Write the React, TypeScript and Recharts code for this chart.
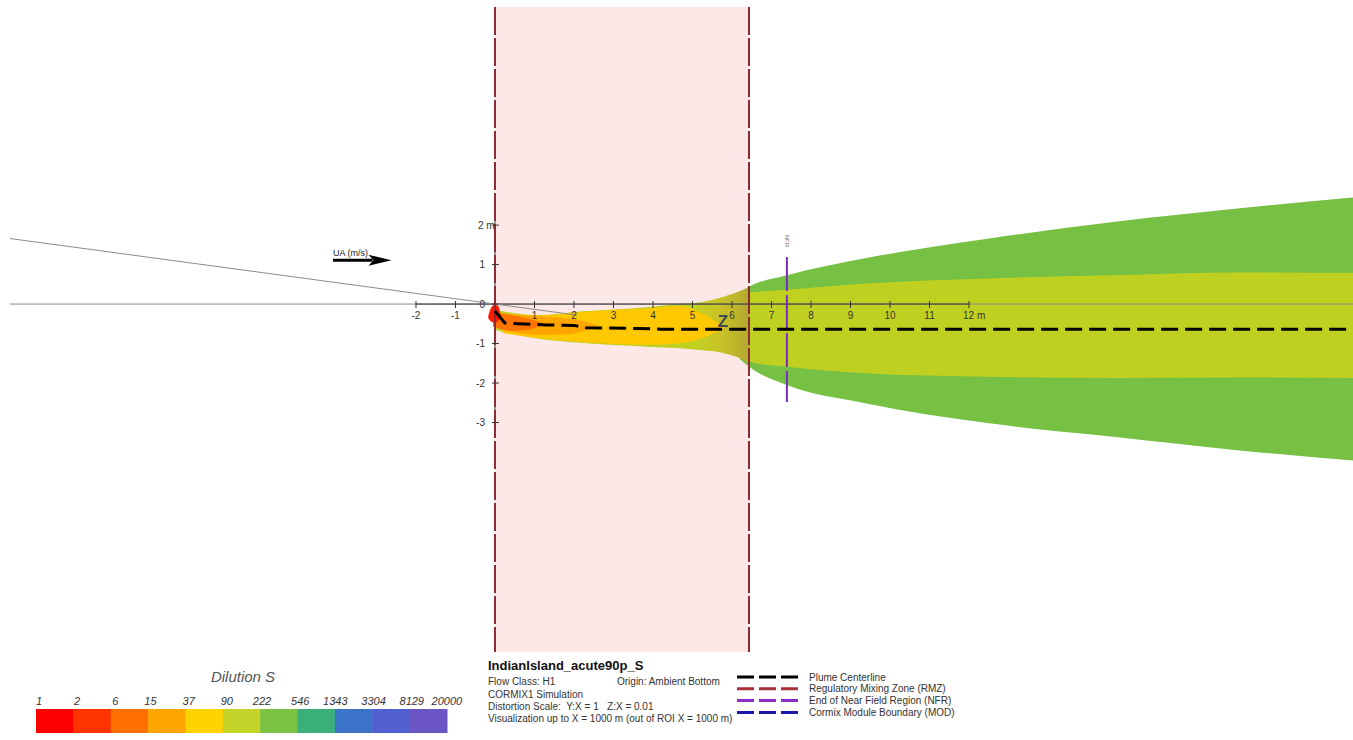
import React from 'react';
import { ComposedChart, Area, Line, Scatter, XAxis, YAxis } from 'recharts';

const W = 1353;
const H = 740;

// plan view domain in metres, same scale on both axes
const xDomain = [-12.53, 21.72];
const yDomain = [-11.04, 7.7];

const xTicks = [-2, -1, 1, 2, 3, 4, 5, 6, 7, 8, 9, 10, 11, 12];
const xTickLabels = ['-2', '-1', '1', '2', '3', '4', '5', '6', '7', '8', '9', '10', '11', '12 m'];
const yTicks = [-3, -2, -1, 0, 1, 2];
const yTickLabels = ['-3', '-2', '-1', '0', '1', '2 m'];

// plume bands: [x, lower, upper]
const greenBand = [
  [6.2, -1.4, 0.3],
  [6.45, -1.6, 0.45],
  [7.39, -2.05, 0.73],
  [9.37, -2.51, 1.16],
  [12.51, -3.02, 1.66],
  [15.65, -3.36, 2.08],
  [18.79, -3.7, 2.42],
  [21.72, -3.96, 2.7],
];
const yellowGreenBand = [
  [0.0, -0.66, -0.15],
  [1.06, -0.87, -0.28],
  [2.15, -0.98, -0.19],
  [3.84, -1.08, -0.08],
  [4.68, -1.12, 0.0],
  [5.25, -1.17, 0.05],
  [5.71, -1.22, 0.16],
  [6.1, -1.33, 0.27],
  [6.45, -1.46, 0.3],
  [7.39, -1.59, 0.36],
  [9.37, -1.75, 0.52],
  [12.51, -1.84, 0.65],
  [15.65, -1.87, 0.73],
  [18.79, -1.86, 0.8],
  [21.72, -1.87, 0.79],
];
const oliveBand = [
  [5.0, -1.15, 0.02],
  [5.71, -1.22, 0.16],
  [6.1, -1.33, 0.29],
  [6.44, -1.5, 0.42],
];
const yellowBand = [
  [0.2, -0.74, -0.24],
  [1.06, -0.86, -0.29],
  [2.15, -0.96, -0.2],
  [3.0, -1.01, -0.15],
  [3.84, -1.03, -0.11],
  [4.7, -0.99, -0.05],
  [5.25, -0.86, -0.24],
  [5.8, -0.61, -0.59],
];
const lightOrangeBand = [
  [0.05, -0.6, -0.22],
  [0.5, -0.72, -0.27],
  [1.06, -0.78, -0.3],
  [1.7, -0.77, -0.35],
  [2.2, -0.7, -0.42],
  [2.6, -0.56, -0.54],
];
const orangeBand = [
  [-0.05, -0.56, -0.2],
  [0.4, -0.68, -0.28],
  [0.8, -0.66, -0.36],
  [1.15, -0.55, -0.46],
  [1.3, -0.5, -0.5],
];
const redBand = [
  [-0.17, -0.36, -0.3],
  [-0.1, -0.44, -0.1],
  [0.0, -0.47, -0.02],
  [0.08, -0.42, -0.05],
  [0.15, -0.35, -0.3],
];
const rmzBox = [
  [0, -8.81, 7.52],
  [6.43, -8.81, 7.52],
];

const centerline = [
  [0.0, -0.18],
  [0.25, -0.48],
  [0.6, -0.5],
  [1.3, -0.53],
  [2.0, -0.54],
  [2.3, -0.6],
  [3.6, -0.62],
  [4.2, -0.635],
  [21.72, -0.64],
];
const rmzLeft = [[0, 7.52], [0, -8.81]];
const rmzRight = [[6.43, 7.52], [6.43, -8.81]];
const nfrLine = [[7.39, 1.19], [7.39, -2.48]];
const ambientLine = [[-12.28, 1.66], [2.07, -0.28]];
const xAxisFull = [[-12.28, 0], [21.72, 0]];
const xAxisScale = [[-2, 0], [12, 0]];
const yAxisScale = [[0, -3.2], [0, 2.2]];
const uaShaft = [[-4.1, 1.11], [-3.1, 1.11]];
const uaHead = [{ x: -2.62, y: 1.11 }];

const chartLabels = [
  { x: -4.1, y: 1.215, text: 'UA (m/s)', kind: 'ua' },
  { x: 5.77, y: -0.58, text: 'Z', kind: 'z' },
  { x: 7.39, y: 1.6, text: 'NFR', kind: 'nfr' },
];

const dilutionLevels = ['1', '2', '6', '15', '37', '90', '222', '546', '1343', '3304', '8129', '20000'];
const dilutionColors = ['#fe0000', '#ff3300', '#ff7000', '#ffa500', '#ffd200', '#c4d32a', '#7cc242', '#3aaf7a', '#3b73c8', '#5060d0', '#6b55c5'];

const legendItems = ['Plume Centerline', 'Regulatory Mixing Zone (RMZ)', 'End of Near Field Region (NFR)', 'Cormix Module Boundary (MOD)'];
const legendColors = ['#000000', '#a8303a', '#8a2ec6', '#1818a8'];

const infoLines = [
  'CORMIX1 Simulation',
  'Distortion Scale:  Y:X = 1   Z:X = 0.01',
  'Visualization up to X = 1000 m (out of ROI X = 1000 m)',
];

const band = (rows: number[][]) => rows.map(([x, lo, hi]) => ({ x, r: [lo, hi] }));
const pts = (rows: number[][]) => rows.map(([x, y]) => ({ x, y }));

const FONT = 'Arial, "Liberation Sans", sans-serif';

const XTick = (p: any) => {
  const { cx, cy, payload } = p;
  const isEnd = payload.label.indexOf('m') >= 0;
  return (
    <g>
      <line x1={cx} x2={cx} y1={cy - 3} y2={cy + 4} stroke="#333" strokeWidth={1} />
      <text x={isEnd ? cx - 6 : cx} y={cy + 15} textAnchor={isEnd ? 'start' : 'middle'} fontSize={10} fill="#333" fontFamily={FONT}>
        {payload.label}
      </text>
    </g>
  );
};

const YTick = (p: any) => {
  const { cx, cy, payload } = p;
  const isEnd = payload.label.indexOf('m') >= 0;
  return (
    <g>
      <line x1={cx - 3} x2={cx + 4} y1={cy} y2={cy} stroke="#333" strokeWidth={1} />
      <text x={isEnd ? cx - 17 : cx - 10} y={cy + 3.5} textAnchor={isEnd ? 'start' : 'end'} fontSize={10} fill="#333" fontFamily={FONT}>
        {payload.label}
      </text>
    </g>
  );
};

const ArrowHead = (p: any) => {
  const { cx, cy } = p;
  return <polygon points={`${cx},${cy} ${cx - 23},${cy - 5.5} ${cx - 18},${cy} ${cx - 23},${cy + 5.5}`} fill="#000" />;
};

const ChartLabel = (p: any) => {
  const { cx, cy, payload } = p;
  if (payload.kind === 'ua') {
    return (
      <text x={cx} y={cy} fontSize={9} fill="#222" fontFamily={FONT}>
        {payload.text}
      </text>
    );
  }
  if (payload.kind === 'z') {
    return (
      <text x={cx} y={cy} textAnchor="middle" fontSize={17} fontWeight={600} fill="#3c4a57" fontFamily={FONT}>
        {payload.text}
      </text>
    );
  }
  return (
    <text x={cx} y={cy} transform={`rotate(90 ${cx} ${cy})`} textAnchor="middle" dy={2} fontSize={6} fill="#777" fontFamily={FONT}>
      {payload.text}
    </text>
  );
};

const areaProps = { dataKey: 'r', type: 'monotone' as const, fillOpacity: 1, stroke: 'none', activeDot: false, isAnimationActive: false };
const lineProps = { dataKey: 'y', type: 'linear' as const, dot: false, activeDot: false, isAnimationActive: false };

export default function App() {
  const cellW = 411 / dilutionColors.length;
  return (
    <div style={{ position: 'absolute', left: 0, top: 0, width: W, height: H, background: '#fff' }}>
      <ComposedChart width={W} height={H} margin={{ top: 0, right: 0, bottom: 0, left: 0 }}>
        <defs>
          <linearGradient id="nearFieldEdge" x1="0" y1="0" x2="1" y2="0">
            <stop offset="0%" stopColor="#c8c826" stopOpacity={0} />
            <stop offset="45%" stopColor="#cbc226" stopOpacity={0.9} />
            <stop offset="100%" stopColor="#b4a830" stopOpacity={1} />
          </linearGradient>
        </defs>
        <XAxis type="number" dataKey="x" domain={xDomain} allowDataOverflow hide />
        <YAxis type="number" dataKey="y" domain={yDomain} allowDataOverflow hide />

        <Area {...areaProps} data={band(rmzBox)} type="linear" fill="#fde8e8" />
        <Area {...areaProps} data={band(greenBand)} fill="#76c043" />
        <Area {...areaProps} data={band(yellowGreenBand)} fill="#c0d020" />
        <Area {...areaProps} data={band(oliveBand)} fill="url(#nearFieldEdge)" />
        <Area {...areaProps} data={band(yellowBand)} fill="#ffc800" />
        <Area {...areaProps} data={band(lightOrangeBand)} fill="#ffa500" />
        <Area {...areaProps} data={band(orangeBand)} fill="#ff7400" />
        <Area {...areaProps} data={band(redBand)} fill="#ff1a00" />

        <Line {...lineProps} data={pts(xAxisFull)} stroke="#8a8a8a" strokeWidth={1} />
        <Line {...lineProps} data={pts(xAxisScale)} stroke="#333" strokeWidth={1} />
        <Line {...lineProps} data={pts(yAxisScale)} stroke="#333" strokeWidth={1} />
        <Line {...lineProps} data={pts(ambientLine)} stroke="#8c8c8c" strokeWidth={1} />
        <Line {...lineProps} data={pts(rmzLeft)} stroke="#8e2a35" strokeWidth={2} strokeDasharray="28 3" />
        <Line {...lineProps} data={pts(rmzRight)} stroke="#8e2a35" strokeWidth={2} strokeDasharray="28 3" />
        <Line {...lineProps} data={pts(nfrLine)} stroke="#7a2cc0" strokeWidth={2} strokeDasharray="34 4" />
        <Line {...lineProps} data={pts(centerline)} stroke="#000" strokeWidth={3} strokeDasharray="17 7" />
        <Line {...lineProps} data={pts(uaShaft)} stroke="#000" strokeWidth={3} />

        <Scatter data={xTicks.map((v, i) => ({ x: v, y: 0, label: xTickLabels[i] }))} shape={XTick} isAnimationActive={false} />
        <Scatter data={yTicks.map((v, i) => ({ x: 0, y: v, label: yTickLabels[i] }))} shape={YTick} isAnimationActive={false} />
        <Scatter data={uaHead} shape={ArrowHead} isAnimationActive={false} />
        <Scatter data={chartLabels} shape={ChartLabel} isAnimationActive={false} />
      </ComposedChart>

      <svg width={W} height={H} style={{ position: 'absolute', left: 0, top: 0, pointerEvents: 'none' }} fontFamily={FONT}>
        {/* dilution colour scale */}
        <text x={243} y={682} textAnchor="middle" fontSize={15} fontStyle="italic" fill="#555">Dilution S</text>
        {dilutionLevels.map((lv, i) => (
          <text key={lv} x={42 + 38.2 * i} y={705} textAnchor="end" fontSize={11} fontStyle="italic" fill="#333">{lv}</text>
        ))}
        {dilutionColors.map((c, i) => (
          <rect key={c} x={36 + cellW * i} y={709} width={cellW + 0.5} height={24} fill={c} />
        ))}

        {/* run information */}
        <text x={488} y={670} fontSize={13} fontWeight="bold" fill="#111">IndianIsland_acute90p_S</text>
        <text x={488} y={685} fontSize={10} fill="#333">Flow Class: H1</text>
        <text x={617} y={685} fontSize={10} fill="#333">Origin: Ambient Bottom</text>
        {infoLines.map((t, i) => (
          <text key={t} x={488} y={698 + 12.2 * i} fontSize={10} fill="#333" style={{ whiteSpace: 'pre' }}>{t}</text>
        ))}

        {/* line legend */}
        {legendItems.map((t, i) => (
          <g key={t}>
            <line x1={737} x2={798} y1={677 + 11.8 * i} y2={677 + 11.8 * i} stroke={legendColors[i]} strokeWidth={3} strokeDasharray="17 5" />
            <text x={809} y={680.5 + 11.8 * i} fontSize={10} fill="#333">{t}</text>
          </g>
        ))}
      </svg>
    </div>
  );
}
